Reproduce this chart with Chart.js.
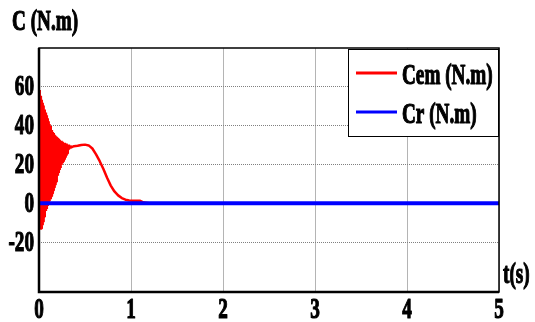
<!DOCTYPE html>
<html>
<head>
<meta charset="utf-8">
<script src="https://cdn.jsdelivr.net/npm/chart.js@4.4.0/dist/chart.umd.min.js"></script>
<style>
  html, body { margin: 0; padding: 0; background: #fff; }
  #wrap { position: relative; width: 535px; height: 322px; }
</style>
</head>
<body>
<div id="wrap"><canvas id="c" width="535" height="322"></canvas></div>
<script>
// Cem (N.m): dense oscillation at start (peaks and troughs), then the smooth bump
const tCem = [
  0.000, 0.005, 0.010, 0.015, 0.020, 0.025, 0.030, 0.035, 0.040, 0.045,
  0.050, 0.055, 0.060, 0.065, 0.070, 0.075, 0.080, 0.085, 0.090, 0.095,
  0.100, 0.105, 0.110, 0.115, 0.120, 0.125, 0.130, 0.135, 0.140, 0.145,
  0.150, 0.155, 0.160, 0.165, 0.170, 0.175, 0.180, 0.185, 0.190, 0.195,
  0.200, 0.205, 0.210, 0.215, 0.220, 0.225, 0.230, 0.235, 0.240, 0.245,
  0.250, 0.255, 0.260, 0.265, 0.270, 0.275, 0.280, 0.285, 0.290, 0.295,
  0.300, 0.305, 0.310, 0.315, 0.320, 0.325, 0.330, 0.335, 0.340, 0.345,
  0.38, 0.42, 0.46, 0.50, 0.54, 0.58, 0.62, 0.66, 0.70, 0.74,
  0.78, 0.82, 0.86, 0.90, 0.94, 0.98, 1.02, 1.06, 1.10, 1.14,
  1.20, 5.00
];
const cem = [
  58, -6, 56.5, -13, 55, -13, 53, -11, 51.5, -9.5,
  50, -7, 48, -5, 46.5, -4, 45, -3, 43.5, -1.5,
  42, -0.5, 40.5, 1, 39.5, 2, 38.5, 3.5, 37.5, 5,
  36.5, 6.5, 36, 8, 35, 9.5, 34.5, 11, 34, 12.5,
  33.5, 14, 33, 15.5, 32.5, 17, 32, 18, 32, 19.5,
  31.5, 20.5, 31.5, 21.5, 31, 22.5, 31, 23.5, 30.5, 24.5,
  30.5, 25.5, 30, 26.5, 30, 27.5, 29.5, 28, 29.5, 28.5,
  29.2, 29.4, 29.8, 30, 29.6, 28, 25, 21.5, 17.5, 13,
  9, 6, 4, 2.6, 1.8, 1.4, 1.3, 1.3, 1.2, 0.3,
  0, 0
];
// Cr (N.m): load torque
const tCr = [0, 5];
const cr = [0, 0];

const xTicks = [0, 1, 2, 3, 4, 5];
const yTicks = [-20, 0, 20, 40, 60];
const seriesNames = ['Cem (N.m)', 'Cr (N.m)'];
const seriesColors = ['#ff0000', '#0000ff'];

const FONT = '"Liberation Serif", "Times New Roman", serif';
const SQ = 0.64; // horizontal squeeze of the text

function squeezedText(ctx, text, x, y, size, align) {
  ctx.save();
  ctx.font = 'bold ' + size + 'px ' + FONT;
  ctx.textBaseline = 'middle';
  ctx.fillStyle = '#000';
  ctx.strokeStyle = '#000';
  ctx.lineWidth = 1.2;
  ctx.lineJoin = 'round';
  const w = ctx.measureText(text).width * SQ;
  let left = x;
  if (align === 'right') left = x - w;
  else if (align === 'center') left = x - w / 2;
  ctx.translate(left, y);
  ctx.scale(SQ, 1);
  ctx.textAlign = 'left';
  ctx.fillText(text, 0, 0);
  ctx.strokeText(text, 0, 0);
  ctx.restore();
}

const decorations = {
  id: 'decorations',
  afterDraw(chart) {
    const ctx = chart.ctx;
    const a = chart.chartArea;
    const xs = chart.scales.x, ys = chart.scales.y;

    // axes box
    ctx.save();
    ctx.strokeStyle = '#000';
    ctx.lineWidth = 1.5;
    ctx.strokeRect(a.left, a.top, a.right - a.left, a.bottom - a.top);
    ctx.lineWidth = 2.5;
    ctx.beginPath();
    ctx.moveTo(a.left, a.top);
    ctx.lineTo(a.left, a.bottom);
    ctx.lineTo(a.right, a.bottom);
    ctx.stroke();
    ctx.restore();

    // tick labels
    ys.ticks.forEach(t => {
      squeezedText(ctx, String(t.value), a.left - 5, ys.getPixelForValue(t.value) + 1, 30, 'right');
    });
    xs.ticks.forEach(t => {
      squeezedText(ctx, String(t.value), xs.getPixelForValue(t.value), 310, 30, 'center');
    });

    // axis titles
    squeezedText(ctx, 'C (N.m)', 12, 22, 30, 'left');
    squeezedText(ctx, 't(s)', 503, 275, 30, 'left');

    // legend box in the upper right corner
    const lx = 348, ly = 49, lw = a.right - 348, lh = 88;
    ctx.save();
    ctx.fillStyle = '#fff';
    ctx.fillRect(lx, ly, lw, lh);
    ctx.strokeStyle = '#000';
    ctx.lineWidth = 1;
    ctx.strokeRect(lx + 0.5, ly + 0.5, lw - 1, lh - 1);
    ctx.restore();
    const rows = [73, 112];
    chart.data.datasets.forEach((ds, i) => {
      ctx.save();
      ctx.strokeStyle = ds.borderColor;
      ctx.lineWidth = 3;
      ctx.beginPath();
      ctx.moveTo(356, rows[i]);
      ctx.lineTo(397, rows[i]);
      ctx.stroke();
      ctx.restore();
      squeezedText(ctx, ds.label, 402, rows[i] + 3, 30, 'left');
    });
  }
};

const toPoints = (xs, ys) => xs.map((x, i) => ({ x: x, y: ys[i] }));

new Chart(document.getElementById('c').getContext('2d'), {
  type: 'line',
  data: {
    datasets: [
      {
        label: seriesNames[0],
        data: toPoints(tCem, cem),
        borderColor: seriesColors[0],
        borderWidth: 2.5,
        borderJoinStyle: 'bevel',
        pointRadius: 0,
        tension: 0,
        order: 2
      },
      {
        label: seriesNames[1],
        data: toPoints(tCr, cr),
        borderColor: seriesColors[1],
        borderWidth: 4,
        pointRadius: 0,
        tension: 0,
        order: 1
      }
    ]
  },
  options: {
    responsive: false,
    animation: false,
    layout: { padding: { left: 0, top: 48, right: 36, bottom: 0 } },
    plugins: {
      legend: { display: false },
      tooltip: { enabled: false }
    },
    scales: {
      x: {
        type: 'linear',
        min: 0,
        max: 5,
        afterBuildTicks: s => { s.ticks = xTicks.map(v => ({ value: v })); },
        afterFit: s => { s.height = 30; },
        ticks: { display: false },
        grid: { color: '#b4b4b4', lineWidth: 1, drawTicks: false },
        border: { display: false }
      },
      y: {
        min: -45.5,
        max: 79.5,
        afterBuildTicks: s => { s.ticks = yTicks.map(v => ({ value: v })); },
        afterFit: s => { s.width = 39; },
        ticks: { display: false },
        grid: { color: '#808080', lineWidth: 1, drawTicks: false },
        border: { display: false, dash: [1, 1] }
      }
    }
  },
  plugins: [decorations]
});
</script>
</body>
</html>
